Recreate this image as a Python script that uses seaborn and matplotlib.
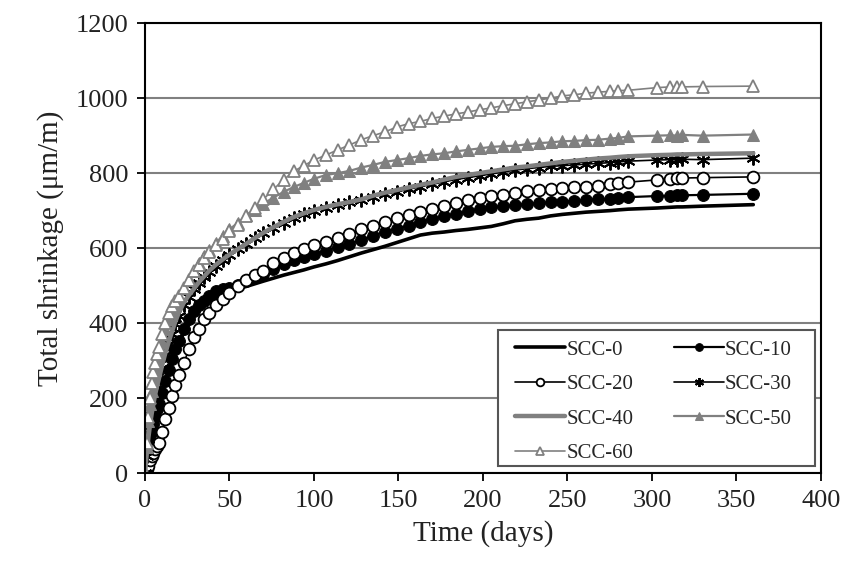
import matplotlib
matplotlib.use("Agg")
import matplotlib.pyplot as plt
from matplotlib.patches import Rectangle
import seaborn as sns

# Dias de medicao (comuns a todas as series)
dias = [0, 1, 2, 3, 4, 5, 6, 7, 8, 10, 12, 14, 16, 18, 20, 23, 26, 29, 32, 35, 38,
        42, 46, 50, 55, 60, 65, 70, 76, 82, 88, 94, 100, 107, 114, 121, 128, 135,
        142, 149, 156, 163, 170, 177, 184, 191, 198, 205, 212, 219, 226, 233, 240,
        247, 254, 261, 268, 275, 280, 286, 303, 311, 315, 318, 330, 360]

# Retracao total (um/m)
scc_0 = [0, 25, 55, 80, 105, 125, 145, 165, 180, 212, 245, 272, 300, 325, 345, 375,
         400, 420, 435, 448, 458, 468, 477, 485, 492, 498, 505, 512, 520, 528, 535,
         542, 550, 558, 567, 577, 587, 596, 605, 615, 625, 635, 640, 643, 647, 650,
         654, 658, 665, 673, 677, 680, 686, 690, 693, 696, 698, 700, 702, 704, 707,
         709, 710, 710, 712, 716]
scc_10 = [0, 30, 60, 85, 110, 130, 150, 170, 185, 215, 245, 275, 305, 330, 352, 385,
          412, 432, 448, 460, 472, 485, 490, 495, 503, 512, 522, 532, 545, 558, 568,
          576, 584, 593, 603, 612, 622, 633, 644, 652, 660, 670, 678, 685, 692, 698,
          705, 709, 712, 715, 718, 720, 722, 724, 726, 728, 730, 732, 734, 736, 739,
          740, 741, 741, 742, 745]
scc_20 = [0, 10, 20, 35, 45, 55, 65, 72, 80, 110, 145, 175, 205, 235, 262, 295, 330,
          362, 385, 410, 428, 448, 465, 480, 498, 515, 528, 540, 560, 575, 588, 598,
          608, 617, 627, 638, 650, 660, 670, 680, 688, 697, 705, 712, 720, 728, 735,
          740, 743, 747, 752, 755, 758, 760, 762, 764, 766, 770, 773, 776, 782, 784,
          786, 787, 788, 790]
scc_30 = [0, 45, 90, 125, 155, 180, 205, 225, 245, 280, 315, 345, 372, 398, 420, 448,
          470, 490, 507, 522, 537, 553, 568, 582, 597, 612, 626, 640, 655, 668, 680,
          690, 700, 708, 716, 722, 728, 737, 744, 750, 757, 764, 770, 777, 783, 788,
          793, 798, 803, 808, 812, 815, 818, 820, 822, 824, 826, 828, 830, 832, 835,
          836, 835, 837, 836, 840]
scc_40 = [0, 50, 95, 130, 160, 185, 210, 230, 248, 285, 320, 350, 378, 405, 428, 455,
          475, 492, 510, 525, 540, 556, 570, 583, 598, 612, 627, 641, 656, 670, 683,
          693, 702, 710, 717, 723, 730, 740, 748, 755, 762, 769, 775, 783, 790, 795,
          800, 805, 810, 815, 818, 822, 826, 830, 833, 836, 839, 841, 843, 845, 848,
          849, 850, 850, 851, 853]
scc_50 = [0, 70, 140, 185, 220, 250, 278, 300, 320, 350, 385, 410, 432, 452, 470, 495,
          517, 540, 560, 578, 595, 615, 632, 650, 668, 688, 703, 718, 735, 750, 763,
          774, 785, 795, 800, 806, 815, 822, 830, 835, 840, 846, 850, 853, 858, 862,
          866, 870, 872, 873, 877, 880, 882, 885, 886, 888, 889, 892, 894, 898, 900,
          901, 900, 902, 900, 903]
scc_60 = [0, 80, 150, 200, 240, 270, 295, 318, 336, 370, 400, 426, 445, 460, 472, 495,
          515, 538, 556, 573, 590, 608, 625, 645, 663, 685, 708, 730, 757, 782, 805,
          820, 835, 848, 862, 875, 889, 900, 910, 923, 932, 938, 946, 952, 958, 963,
          969, 974, 980, 985, 990, 995, 1000, 1006, 1009, 1013, 1016, 1018, 1020, 1021,
          1028, 1030, 1029, 1030, 1031, 1032]

rotulos = ["SCC-0", "SCC-10", "SCC-20", "SCC-30", "SCC-40", "SCC-50", "SCC-60"]
series = [scc_0, scc_10, scc_20, scc_30, scc_40, scc_50, scc_60]

CINZA = "#808080"
estilos = [
    dict(color="black", lw=2.6, marker=None),
    dict(color="black", lw=1.6, marker="o", ms=8.5, mfc="black", mec="black"),
    dict(color="black", lw=1.2, marker="o", ms=8.5, mfc="white", mec="black", mew=1.3),
    dict(color="black", lw=1.2, marker=(6, 2, 0), ms=10, mec="black", mew=1.4),
    dict(color=CINZA, lw=3.2, marker=None),
    dict(color=CINZA, lw=1.6, marker="^", ms=9, mfc=CINZA, mec=CINZA),
    dict(color=CINZA, lw=1.2, marker="^", ms=9, mfc="white", mec=CINZA, mew=1.3),
]

sns.set_theme(style="ticks")
plt.rcParams["font.family"] = ["Liberation Serif", "DejaVu Serif"]

fig = plt.figure(figsize=(8.48, 5.64), dpi=100)
ax = fig.add_axes([0.171, 0.161, 0.797, 0.798])

for rotulo, valores, estilo in zip(rotulos, series, estilos):
    sns.lineplot(x=dias, y=valores, ax=ax, label=rotulo, sort=False,
                 estimator=None, **estilo)

ax.set_xlim(0, 400)
ax.set_ylim(0, 1200)
ax.set_xticks(range(0, 401, 50))
ax.set_yticks(range(0, 1201, 200))
ax.yaxis.grid(True, color=CINZA, lw=1.5)
ax.set_axisbelow(True)
for lado in ax.spines.values():
    lado.set_color("black")
    lado.set_linewidth(1.5)
ax.tick_params(axis="both", direction="out", length=6, width=1.3,
               labelsize=19, colors="black", pad=6)
for rotulo_tick in ax.get_xticklabels() + ax.get_yticklabels():
    rotulo_tick.set_color("#222222")

ax.set_xlabel("Time (days)", fontsize=21, labelpad=6, color="#222222")
ax.set_ylabel("Total shrinkage (\u03bcm/m)", fontsize=21, labelpad=8, color="#222222")

# Caixa da legenda desenhada a parte para acertar as margens
caixa = Rectangle((0.522, 0.016), 0.469, 0.302, transform=ax.transAxes,
                  facecolor="white", edgecolor="#555555", lw=1.5, zorder=4.5)
ax.add_patch(caixa)

# Legenda em duas colunas preenchidas por linha
handles, labels = ax.get_legend_handles_labels()
ordem = [0, 2, 4, 6, 1, 3, 5]
leg = ax.legend([handles[i] for i in ordem], [labels[i] for i in ordem],
                ncol=2, loc="upper left", bbox_to_anchor=(0.548, 0.296),
                fontsize=15, frameon=False, handlelength=2.4, handletextpad=0.05,
                columnspacing=1.95, labelspacing=0.72, borderpad=0,
                markerscale=0.65, borderaxespad=0)
leg.set_zorder(5)

fig.savefig("out.png", dpi=100)
